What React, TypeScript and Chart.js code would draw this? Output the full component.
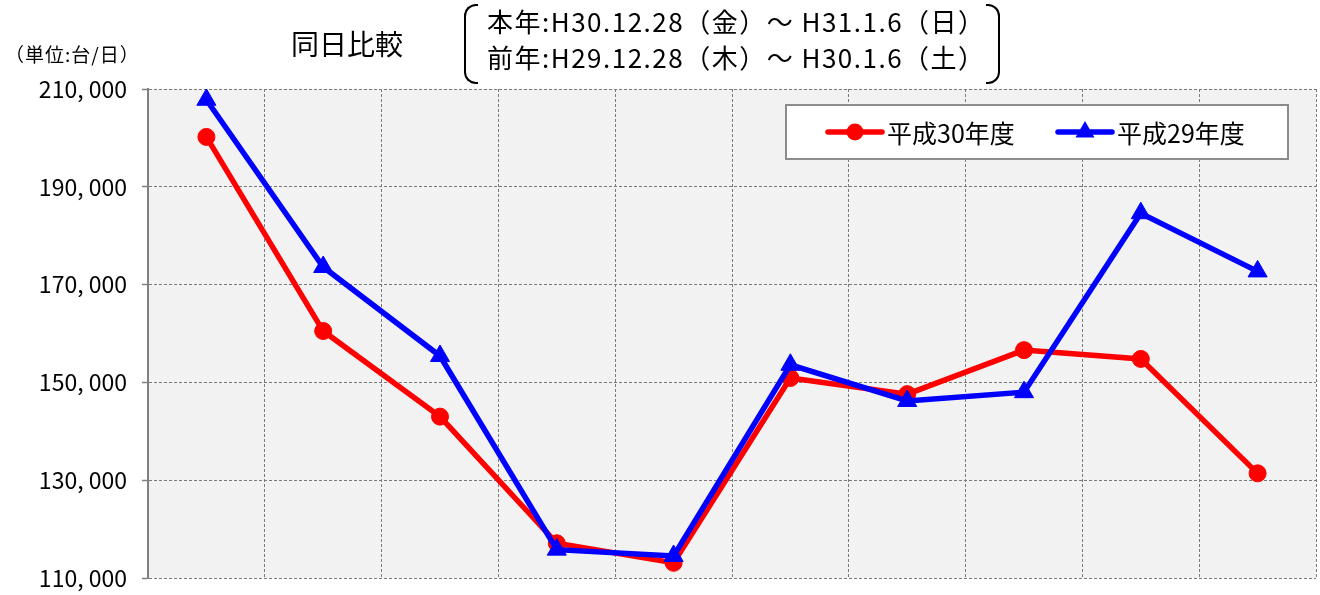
import React, { useEffect, useRef } from "react";
import { Chart, registerables } from "chart.js";

Chart.register(...registerables);

const categories = ["12/28", "12/29", "12/30", "12/31", "1/1", "1/2", "1/3", "1/4", "1/5", "1/6"];
const seriesH30 = [200200, 160500, 143000, 117100, 113100, 150900, 147600, 156600, 154800, 131400];
const seriesH29 = [207800, 173600, 155400, 115800, 114500, 153600, 146200, 148000, 184600, 172700];
const seriesNames = ["平成30年度", "平成29年度"];
const yMin = 110000;
const yMax = 210000;
const yStep = 20000;

const FONT = "'Noto Sans CJK JP', 'Noto Sans', sans-serif";

const bgPlugin = {
  id: "plotBg",
  beforeDraw(chart: any) {
    const { ctx, chartArea } = chart;
    ctx.save();
    ctx.fillStyle = "#f2f2f2";
    ctx.fillRect(chartArea.left, chartArea.top, chartArea.right - chartArea.left, chartArea.bottom - chartArea.top);
    ctx.restore();
  },
};

const legendPlugin = {
  id: "boxLegend",
  afterDraw(chart: any) {
    const { ctx, chartArea } = chart;
    const boxRight = chartArea.right - 28;
    const boxLeft = boxRight - 502;
    const boxTop = chartArea.top + 16;
    const boxH = 54;
    ctx.save();
    ctx.fillStyle = "#ffffff";
    ctx.fillRect(boxLeft, boxTop, boxRight - boxLeft, boxH);
    ctx.strokeStyle = "#8c8c8c";
    ctx.lineWidth = 2;
    ctx.strokeRect(boxLeft, boxTop, boxRight - boxLeft, boxH);
    const cy = boxTop + boxH / 2;
    const starts = [boxLeft + 42, boxLeft + 272];
    chart.data.datasets.forEach((ds: any, i: number) => {
      const x0 = starts[i];
      ctx.strokeStyle = ds.borderColor;
      ctx.lineWidth = 5.5;
      ctx.lineCap = "round";
      ctx.beginPath();
      ctx.moveTo(x0, cy);
      ctx.lineTo(x0 + 54, cy);
      ctx.stroke();
      ctx.fillStyle = ds.borderColor;
      const mx = x0 + 27;
      if (ds.pointStyle === "triangle") {
        const r = 11;
        ctx.beginPath();
        ctx.moveTo(mx, cy - r);
        ctx.lineTo(mx + r * 0.866, cy + r * 0.5);
        ctx.lineTo(mx - r * 0.866, cy + r * 0.5);
        ctx.closePath();
        ctx.fill();
      } else {
        ctx.beginPath();
        ctx.arc(mx, cy, 8.5, 0, Math.PI * 2);
        ctx.fill();
      }
      ctx.fillStyle = "#000";
      ctx.font = `25px ${FONT}`;
      ctx.textBaseline = "middle";
      ctx.textAlign = "left";
      ctx.fillText(ds.label, x0 + 59, cy + 1);
    });
    ctx.restore();
  },
};

export default function App() {
  const ref = useRef<HTMLCanvasElement | null>(null);

  useEffect(() => {
    if (!ref.current) return;
    const chart = new Chart(ref.current, {
      type: "line",
      data: {
        labels: categories,
        datasets: [
          {
            label: seriesNames[0],
            data: seriesH30,
            borderColor: "#ff0000",
            backgroundColor: "#ff0000",
            borderWidth: 5.5,
            pointStyle: "circle",
            pointRadius: 8.5,
            pointBorderWidth: 1,
            pointBackgroundColor: "#ff0000",
            pointBorderColor: "#ff0000",
            tension: 0,
            order: 1,
          },
          {
            label: seriesNames[1],
            data: seriesH29,
            borderColor: "#0000ff",
            backgroundColor: "#0000ff",
            borderWidth: 5.5,
            pointStyle: "triangle",
            pointRadius: 11,
            pointBorderWidth: 1,
            pointBackgroundColor: "#0000ff",
            pointBorderColor: "#0000ff",
            tension: 0,
            order: 0,
          },
        ],
      },
      options: {
        animation: false,
        responsive: false,
        maintainAspectRatio: false,
        layout: { autoPadding: false, padding: { top: 89, right: 4, bottom: 17, left: 0 } },
        plugins: {
          legend: { display: false },
          tooltip: { enabled: false },
          title: { display: false },
        },
        scales: {
          x: {
            type: "category",
            offset: true,
            ticks: { display: false },
            grid: {
              display: true,
              offset: true,
              drawTicks: false,
              color: "#7a7a7a",
              lineWidth: 1,
            },
            border: { display: false, dash: [3, 2] },
            afterFit(scale: any) {
              scale.height = 0;
              scale.paddingLeft = 0;
              scale.paddingRight = 0;
            },
          },
          y: {
            min: yMin,
            max: yMax,
            ticks: {
              stepSize: yStep,
              padding: 15,
              color: "#000",
              font: { family: FONT, size: 23 },
              callback: (v: any) => Number(v).toLocaleString("en-US").replace(/,/g, ", "),
            },
            grid: {
              color: "#7a7a7a",
              lineWidth: 1,
              tickLength: 6,
              tickColor: "#808080",
              tickWidth: 1.5,
            },
            border: { display: true, color: "#808080", width: 2, dash: [3, 2] },
            afterFit(scale: any) {
              scale.width = 148;
              scale.paddingTop = 0;
              scale.paddingBottom = 0;
            },
          },
        },
      },
      plugins: [bgPlugin, legendPlugin],
    });
    return () => chart.destroy();
  }, []);

  const textBase: React.CSSProperties = {
    position: "absolute",
    fontFamily: FONT,
    color: "#000",
    lineHeight: 1,
    whiteSpace: "nowrap",
  };

  return (
    <div style={{ position: "absolute", left: 0, top: 0, width: 1320, height: 595, background: "#fff" }}>
      <canvas ref={ref} width={1320} height={595} style={{ position: "absolute", left: 0, top: 0, width: 1320, height: 595 }} />
      <div style={{ ...textBase, left: 5, top: 44, fontSize: 19, letterSpacing: 1 }}>（単位:台/日）</div>
      <div style={{ ...textBase, left: 291, top: 29, fontSize: 28 }}>同日比較</div>
      <div style={{ ...textBase, left: 487, top: 8, fontSize: 26, letterSpacing: 1.5 }}>本年:H30.12.28（金）～ H31.1.6（日）</div>
      <div style={{ ...textBase, left: 487, top: 44, fontSize: 26, letterSpacing: 1.5 }}>前年:H29.12.28（木）～ H30.1.6（土）</div>
      <div
        style={{
          position: "absolute",
          left: 464,
          top: 4,
          width: 12,
          height: 76,
          borderLeft: "2px solid #000",
          borderTop: "2px solid #000",
          borderBottom: "2px solid #000",
          borderRadius: "12px 0 0 12px",
        }}
      />
      <div
        style={{
          position: "absolute",
          left: 986,
          top: 4,
          width: 12,
          height: 76,
          borderRight: "2px solid #000",
          borderTop: "2px solid #000",
          borderBottom: "2px solid #000",
          borderRadius: "0 12px 12px 0",
        }}
      />
    </div>
  );
}
